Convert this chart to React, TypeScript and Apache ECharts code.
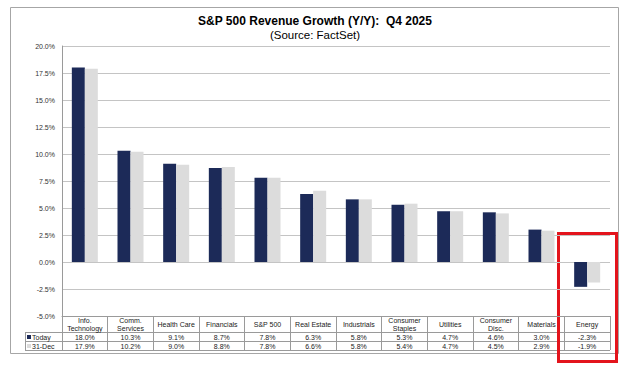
import React, { useEffect, useRef } from "react";
import * as echarts from "echarts";

const categories = [
  "Info.\nTechnology",
  "Comm.\nServices",
  "Health Care",
  "Financials",
  "S&P 500",
  "Real Estate",
  "Industrials",
  "Consumer\nStaples",
  "Utilities",
  "Consumer\nDisc.",
  "Materials",
  "Energy",
];
const todayValues = [18.0, 10.3, 9.1, 8.7, 7.8, 6.3, 5.8, 5.3, 4.7, 4.6, 3.0, -2.3];
const dec31Values = [17.9, 10.2, 9.0, 8.8, 7.8, 6.6, 5.8, 5.4, 4.7, 4.5, 2.9, -1.9];
const seriesNames = ["Today", "31-Dec"];
const titleText = "S&P 500 Revenue Growth (Y/Y):  Q4 2025";
const subtitleText = "(Source: FactSet)";

const FONT = "'Liberation Sans', Arial, Helvetica, sans-serif";
const NAVY = "#1c2a58";
const LIGHT = "#dcdcdc";

export default function App() {
  const ref = useRef<HTMLDivElement>(null);
  useEffect(() => {
    document.body.style.margin = "0";
    if (!ref.current) return;
    const chart = echarts.init(ref.current, null, { renderer: "svg" });

    const W = 624;
    const H = 367;
    const gridLeft = 62;
    const gridRight = 610;
    const gridTop = 46;
    const gridBottom = 316;
    const rowH = 9;
    const headerBottom = 332;
    const tableBottom = headerBottom + 2 * rowH;
    const legendLeft = 25;
    const slot = (gridRight - gridLeft) / categories.length;

    const graphic: any[] = [];
    // outer frame
    graphic.push({
      type: "rect",
      shape: { x: 10.5, y: 7.5, width: 608, height: 346 },
      style: { fill: "none", stroke: "#a6a6a6", lineWidth: 1 },
      silent: true,
    });
    // title + subtitle
    graphic.push({
      type: "text",
      x: 315,
      y: 20.5,
      style: {
        text: titleText,
        fontSize: 12,
        fontWeight: "bold",
        fontFamily: FONT,
        fill: "#000",
        align: "center",
        verticalAlign: "middle",
      },
      silent: true,
    });
    graphic.push({
      type: "text",
      x: 315,
      y: 34.5,
      style: {
        text: subtitleText,
        fontSize: 11.5,
        fontFamily: FONT,
        fill: "#000",
        align: "center",
        verticalAlign: "middle",
      },
      silent: true,
    });
    // table horizontal lines
    [headerBottom, headerBottom + rowH, tableBottom].forEach((y) => {
      graphic.push({
        type: "line",
        shape: { x1: legendLeft, y1: y + 0.5, x2: gridRight, y2: y + 0.5 },
        style: { stroke: "#9a9a9a", lineWidth: 1 },
        silent: true,
      });
    });
    graphic.push({
      type: "line",
      shape: { x1: legendLeft + 0.5, y1: headerBottom, x2: legendLeft + 0.5, y2: tableBottom + 0.5 },
      style: { stroke: "#9a9a9a", lineWidth: 1 },
      silent: true,
    });
    // table values
    [todayValues, dec31Values].forEach((vals, r) => {
      vals.forEach((v, i) => {
        graphic.push({
          type: "text",
          x: gridLeft + (i + 0.5) * slot,
          y: headerBottom + r * rowH + rowH / 2 + 1,
          style: {
            text: v.toFixed(1) + "%",
            fontSize: 7,
            fontFamily: FONT,
            fill: "#222",
            align: "center",
            verticalAlign: "middle",
          },
          silent: true,
        });
      });
    });
    // red highlight box
    graphic.push({
      type: "rect",
      shape: { x: 558.5, y: 233.5, width: 58, height: 128 },
      style: { fill: "none", stroke: "#e3141c", lineWidth: 3 },
      silent: true,
    });

    chart.setOption({
      animation: false,
      backgroundColor: "#ffffff",
      legend: {
        orient: "vertical",
        left: legendLeft + 2,
        top: headerBottom + 1,
        padding: 0,
        itemWidth: 4,
        itemHeight: 4,
        itemGap: 1,
        icon: "rect",
        data: seriesNames,
        textStyle: { fontSize: 7, lineHeight: 8, fontFamily: FONT, color: "#222", padding: [0, 0, 0, -4] },
      },
      grid: {
        left: gridLeft,
        right: W - gridRight,
        top: gridTop,
        bottom: H - gridBottom,
        containLabel: false,
      },
      xAxis: {
        type: "category",
        data: categories,
        boundaryGap: true,
        axisLine: { onZero: false, show: true, lineStyle: { color: "#9a9a9a", width: 1 } },
        axisTick: {
          show: true,
          alignWithLabel: false,
          length: tableBottom - gridBottom,
          lineStyle: { color: "#9a9a9a", width: 1 },
        },
        axisLabel: {
          interval: 0,
          fontSize: 7,
          lineHeight: 8,
          fontFamily: FONT,
          color: "#222222",
          margin: 8,
          verticalAlign: "middle",
        },
        splitLine: { show: false },
      },
      yAxis: {
        type: "value",
        min: -5,
        max: 20,
        interval: 2.5,
        axisLine: { show: true, lineStyle: { color: "#9a9a9a", width: 1 } },
        axisTick: { show: false },
        axisLabel: {
          formatter: (v: number) => v.toFixed(1) + "%",
          fontSize: 7,
          fontFamily: FONT,
          color: "#333",
          margin: 7,
        },
        splitLine: { show: true, lineStyle: { color: "#c4c4c4", width: 1.2 } },
      },
      series: [
        {
          name: seriesNames[0],
          type: "bar",
          data: todayValues,
          barWidth: 13,
          barGap: "0%",
          itemStyle: { color: NAVY },
        },
        {
          name: seriesNames[1],
          type: "bar",
          data: dec31Values,
          barWidth: 13,
          barGap: "0%",
          itemStyle: { color: LIGHT },
        },
      ],
      graphic,
    });
    return () => chart.dispose();
  }, []);
  return <div ref={ref} style={{ width: 624, height: 367 }} />;
}
